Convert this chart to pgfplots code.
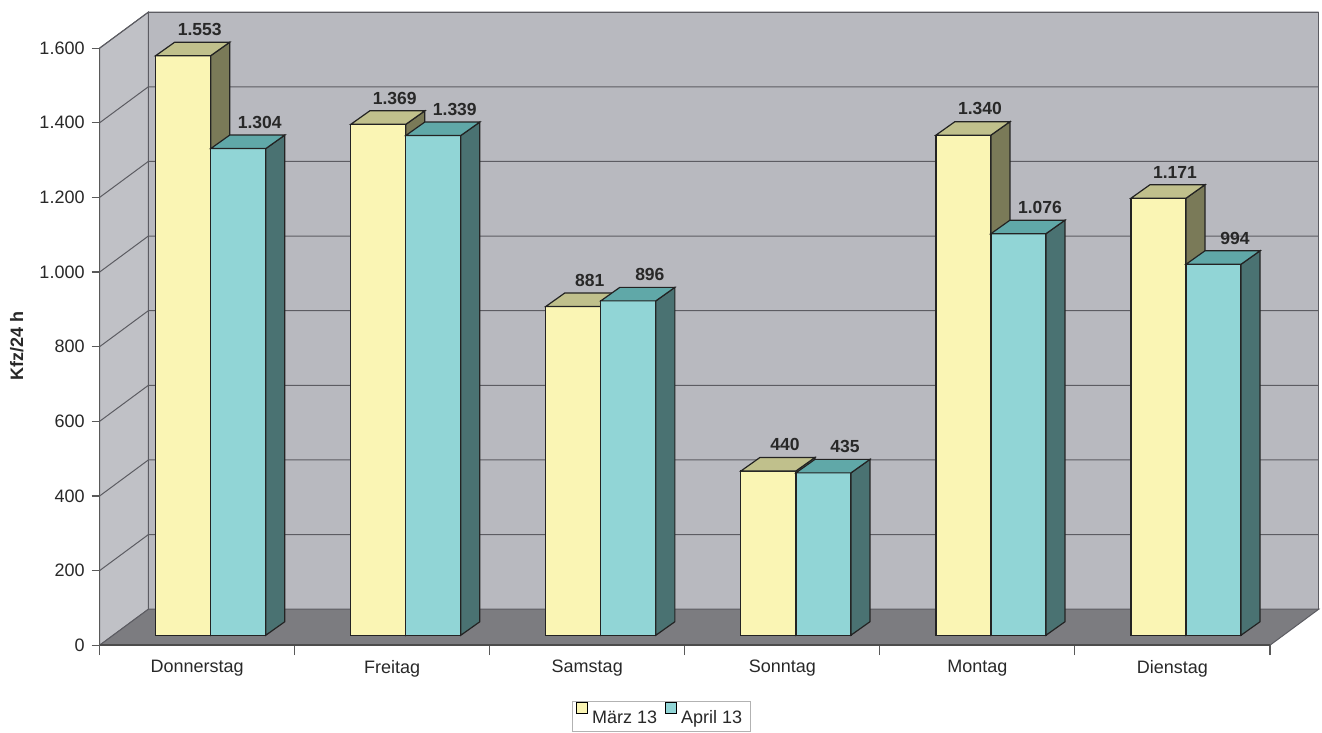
\documentclass[border=0pt]{standalone}
\usepackage{pgfplots}
\pgfplotsset{compat=1.18}
\usepackage{pgfplotstable}
\usepackage{fontspec}
\setmainfont{Liberation Sans}
\definecolor{yfront}{RGB}{250,245,180}
\definecolor{ytop}{RGB}{192,192,140}
\definecolor{yside}{RGB}{122,122,88}
\definecolor{afront}{RGB}{145,213,214}
\definecolor{atop}{RGB}{96,168,168}
\definecolor{aside}{RGB}{74,114,114}
\definecolor{backwall}{RGB}{184,185,191}
\definecolor{sidewall}{RGB}{192,193,198}
\definecolor{floorc}{RGB}{124,124,128}
\definecolor{gridc}{RGB}{92,92,98}
\definecolor{txt}{RGB}{40,40,40}
\definecolor{edge}{RGB}{35,35,35}

% side and top faces of a "März" bar, drawn at the front-top-right corner
\pgfdeclareplotmark{barM}{%
  \pgfpathmoveto{\pgfpoint{0pt}{0pt}}%
  \pgfpathlineto{\pgfpoint{9.5pt}{6.75pt}}%
  \pgfpathlineto{\pgfpoint{9.5pt}{6.75pt-\hv*0.18655pt}}%
  \pgfpathlineto{\pgfpoint{0pt}{-\hv*0.18655pt}}%
  \pgfpathclose
  \pgfsetfillcolor{yside}%
  \pgfusepath{fill,stroke}%
  \pgfpathmoveto{\pgfpoint{-27.5pt}{0pt}}%
  \pgfpathlineto{\pgfpoint{0pt}{0pt}}%
  \pgfpathlineto{\pgfpoint{9.5pt}{6.75pt}}%
  \pgfpathlineto{\pgfpoint{-18pt}{6.75pt}}%
  \pgfpathclose
  \pgfsetfillcolor{ytop}%
  \pgfusepath{fill,stroke}%
}
% side and top faces of an "April" bar, drawn at the front-top-left corner
\pgfdeclareplotmark{barA}{%
  \pgfpathmoveto{\pgfpoint{27.5pt}{0pt}}%
  \pgfpathlineto{\pgfpoint{37pt}{6.75pt}}%
  \pgfpathlineto{\pgfpoint{37pt}{6.75pt-\hv*0.18655pt}}%
  \pgfpathlineto{\pgfpoint{27.5pt}{-\hv*0.18655pt}}%
  \pgfpathclose
  \pgfsetfillcolor{aside}%
  \pgfusepath{fill,stroke}%
  \pgfpathmoveto{\pgfpoint{0pt}{0pt}}%
  \pgfpathlineto{\pgfpoint{27.5pt}{0pt}}%
  \pgfpathlineto{\pgfpoint{37pt}{6.75pt}}%
  \pgfpathlineto{\pgfpoint{9.5pt}{6.75pt}}%
  \pgfpathclose
  \pgfsetfillcolor{atop}%
  \pgfusepath{fill,stroke}%
}

\pgfplotstableread{
x   m    a
0.5 1553 1304
1.5 1369 1339
2.5 881  896
3.5 440  435
4.5 1340 1076
5.5 1171 994
}\data

\begin{document}
\begin{tikzpicture}
\begin{axis}[
  x=97.5pt, y=0.18655pt,
  xmin=0, xmax=6.267, ymin=0, ymax=1729,
  axis x line*=bottom, axis y line*=left,
  axis line style={draw=none},
  clip=false,
  clip marker paths=true,
  scaled y ticks=false,
  ytick={0,200,...,1600},
  xtick={0.5,1.5,...,5.5},
  xticklabels={Donnerstag,Freitag,Samstag,Sonntag,Montag,Dienstag},
  minor xtick={0,1,...,6},
  tick align=outside,
  major tick length=4pt,
  minor tick length=5pt,
  major x tick style={draw=none},
  minor x tick style={draw=gray!70!black, line width=0.6pt},
  ytick style={draw=gray!70!black, line width=0.6pt},
  ticklabel style={font=\fontsize{9}{11}\selectfont, text=txt},
  ylabel={Kfz/24 h},
  ylabel style={font=\bfseries\fontsize{9}{11}\selectfont, text=txt,
    at={(axis cs:-0.5128,801)}, anchor=north, inner sep=0pt, inner ysep=5pt},
  legend columns=2,
  legend style={at={(axis cs:2.879,-149)}, anchor=north, draw=gray!60,
    line width=0.6pt, font=\fontsize{9}{11}\selectfont, text=txt,
    inner xsep=2pt, inner ysep=0.5pt,
    nodes={text height=7pt, text depth=2pt, inner ysep=1.5pt},
    /tikz/every even column/.append style={column sep=2pt}},
  /pgf/number format/1000 sep={.},
  /pgf/number format/assume math mode=true,
]
% walls and floor
\addplot[forget plot, fill=sidewall, draw=gridc, line width=0.5pt]
  coordinates {(0,0) (0.25,96.5) (0.25,1696.5) (0,1600) (0,0)};
\addplot[forget plot, fill=backwall, draw=gridc, line width=0.5pt]
  coordinates {(0.25,96.5) (6.25,96.5) (6.25,1696.5) (0.25,1696.5) (0.25,96.5)};
% grid lines
\addplot[forget plot, draw=gridc, line width=0.5pt] coordinates {(0,200) (0.25,296.5) (6.25,296.5)};
\addplot[forget plot, draw=gridc, line width=0.5pt] coordinates {(0,400) (0.25,496.5) (6.25,496.5)};
\addplot[forget plot, draw=gridc, line width=0.5pt] coordinates {(0,600) (0.25,696.5) (6.25,696.5)};
\addplot[forget plot, draw=gridc, line width=0.5pt] coordinates {(0,800) (0.25,896.5) (6.25,896.5)};
\addplot[forget plot, draw=gridc, line width=0.5pt] coordinates {(0,1000) (0.25,1096.5) (6.25,1096.5)};
\addplot[forget plot, draw=gridc, line width=0.5pt] coordinates {(0,1200) (0.25,1296.5) (6.25,1296.5)};
\addplot[forget plot, draw=gridc, line width=0.5pt] coordinates {(0,1400) (0.25,1496.5) (6.25,1496.5)};
\addplot[forget plot, draw=gridc, line width=0.5pt] coordinates {(0,1600) (0.25,1696.5) (6.25,1696.5)};
\addplot[forget plot, fill=floorc, draw=gridc, line width=0.5pt]
  coordinates {(0,0) (6,0) (6.25,96.5) (0.25,96.5) (0,0)};
\addplot[forget plot, draw=gray!70!black, line width=0.8pt] coordinates {(0,0) (0,1600)};
\addplot[forget plot, draw=black!70, line width=1pt] coordinates {(0,0) (6,0)};

% März
\addplot[ybar, bar width=27.5pt, bar shift=-13.75pt, xshift=6.8pt, yshift=5pt,
  fill=yfront, draw=edge, line width=0.6pt,
  legend image code/.code={\draw[fill=yfront, draw=black, line width=0.5pt] (0pt,-2.75pt) rectangle (5.5pt,2.75pt);}]
  table[x=x, y=m] {\data};
\addlegendentry{März 13}
\addplot[forget plot, only marks, mark=barM, color=edge, line width=0.6pt,
  xshift=6.8pt, yshift=5pt,
  visualization depends on={rawy \as \hv},
  point meta=y, nodes near coords,
  every node near coord/.append style={anchor=south, inner sep=0pt,
    xshift=-5.5pt, yshift=9.75pt, text=txt,
    font=\bfseries\fontsize{8.75}{10}\selectfont}]
  table[x=x, y=m] {\data};

% April
\addplot[ybar, bar width=27.5pt, bar shift=13.75pt, xshift=6.8pt, yshift=5pt,
  fill=afront, draw=edge, line width=0.6pt,
  legend image code/.code={\draw[fill=afront, draw=black, line width=0.5pt] (0pt,-2.75pt) rectangle (5.5pt,2.75pt);}]
  table[x=x, y=a] {\data};
\addlegendentry{April 13}
\addplot[forget plot, only marks, mark=barA, color=edge, line width=0.6pt,
  xshift=6.8pt, yshift=5pt,
  visualization depends on={rawy \as \hv},
  point meta=y, nodes near coords,
  every node near coord/.append style={anchor=south, inner sep=0pt,
    xshift=24.5pt, yshift=9.75pt, text=txt,
    font=\bfseries\fontsize{8.75}{10}\selectfont}]
  table[x=x, y=a] {\data};
\end{axis}
\end{tikzpicture}
\end{document}
